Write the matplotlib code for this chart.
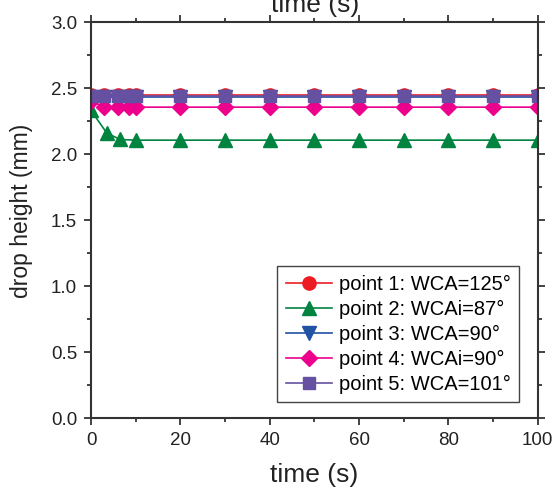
import matplotlib.pyplot as plt
from matplotlib.ticker import MultipleLocator

plt.rcParams['font.family'] = ['Liberation Sans', 'DejaVu Sans']

# data
t_main = [0, 3, 6, 8.5, 10, 20, 30, 40, 50, 60, 70, 80, 90, 100]
t_green = [0, 3.5, 6.5, 10, 20, 30, 40, 50, 60, 70, 80, 90, 100]

h1 = [2.45, 2.45, 2.45, 2.45, 2.45, 2.45, 2.45, 2.45, 2.45, 2.45, 2.45, 2.45, 2.45, 2.45]
h2 = [2.33, 2.16, 2.11, 2.105, 2.105, 2.105, 2.105, 2.105, 2.105, 2.105, 2.105, 2.105, 2.105]
h3 = [2.43, 2.43, 2.43, 2.43, 2.43, 2.43, 2.43, 2.43, 2.43, 2.43, 2.43, 2.43, 2.43, 2.43]
h4 = [2.40, 2.355, 2.355, 2.355, 2.355, 2.355, 2.355, 2.355, 2.355, 2.355, 2.355, 2.355, 2.355, 2.355]
h5 = [2.44, 2.44, 2.44, 2.44, 2.44, 2.44, 2.44, 2.44, 2.44, 2.44, 2.44, 2.44, 2.44, 2.44]

labels = ['point 1: WCA=125°', 'point 2: WCAi=87°', 'point 3: WCA=90°',
          'point 4: WCAi=90°', 'point 5: WCA=101°']

fig = plt.figure(figsize=(5.55, 4.88), dpi=100)
ax = fig.add_axes([0.164, 0.1434, 0.805, 0.8115])

ax.plot(t_main, h1, '-o', color='#ED1C24', ms=9.5, mec='#ED1C24', lw=1.2, label=labels[0])
ax.plot(t_green, h2, '-^', color='#00843F', ms=9.5, mec='#00843F', lw=1.2, label=labels[1])
ax.plot(t_main, h3, '-v', color='#2152A3', ms=9.5, mec='#2152A3', lw=1.2, label=labels[2])
ax.plot(t_main, h4, '-D', color='#EC008C', ms=8, mec='#EC008C', lw=1.2, label=labels[3])
ax.plot(t_main, h5, '-s', color='#6650A2', ms=8.5, mec='#6650A2', lw=1.2, label=labels[4])

ax.set_xlim(0, 100)
ax.set_ylim(0, 3.0)
ax.xaxis.set_major_locator(MultipleLocator(20))
ax.xaxis.set_minor_locator(MultipleLocator(10))
ax.yaxis.set_major_locator(MultipleLocator(0.5))
ax.yaxis.set_minor_locator(MultipleLocator(0.25))
ax.yaxis.set_major_formatter(plt.FormatStrFormatter('%.1f'))

ax.tick_params(which='both', direction='out', top=True, right=True, colors='#222222',
               labelsize=13.5, width=1.2)
ax.tick_params(which='major', length=5, pad=5)
ax.tick_params(which='minor', length=3)
for s in ax.spines.values():
    s.set_linewidth(1.5)
    s.set_color('#333333')

ax.set_xlabel('time (s)', fontsize=19, color='#222222', labelpad=10)
ax.set_ylabel('drop height (mm)', fontsize=16.5, color='#222222')
ax.yaxis.set_label_coords(-0.13, 0.523)
# top axis title, cut by the figure edge
fig.text(0.567, 0.99, 'time (s)', ha='center', va='center', fontsize=19, color='#222222')

leg = ax.legend(loc='lower right', bbox_to_anchor=(0.9575, 0.0404), borderaxespad=0,
                fontsize=14.5, fancybox=False, framealpha=1, edgecolor='#444444',
                handlelength=2.3, handletextpad=0.35, labelspacing=0.3, borderpad=0.4)
leg.get_frame().set_linewidth(1.0)

fig.savefig('out.png', dpi=100)
